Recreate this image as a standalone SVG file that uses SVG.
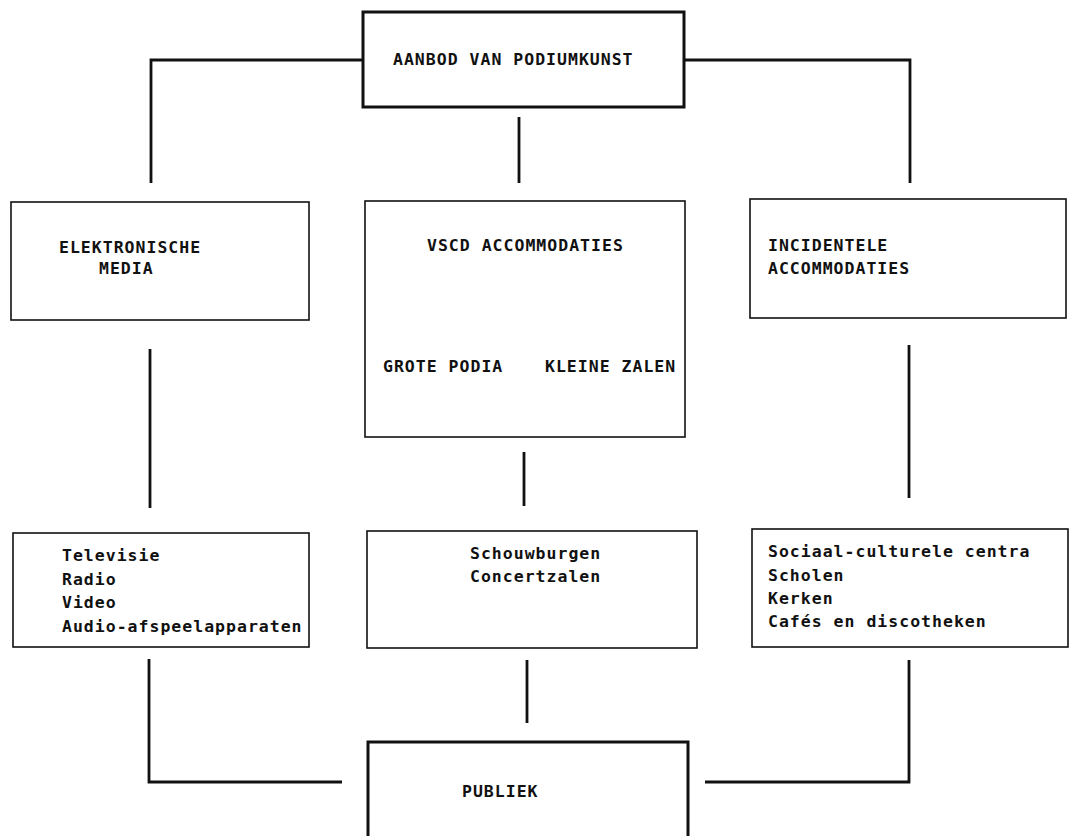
<svg xmlns="http://www.w3.org/2000/svg" width="1070" height="836" viewBox="0 0 1070 836">
<style>
.bg{fill:#ffffff}
.box{fill:none;stroke:#111;stroke-width:1.6}
.boxb{fill:none;stroke:#111;stroke-width:3}
.con{fill:none;stroke:#111;stroke-width:2.8;stroke-linecap:butt;stroke-linejoin:miter}
.t{font-family:"DejaVu Sans Mono","Liberation Mono",monospace;font-size:16.5px;font-weight:bold;letter-spacing:1px;fill:#111}
</style>
<rect class="bg" x="0" y="0" width="1070" height="836"/>
<g id="connectors">
<polyline class="con" points="151,183 151,60 363,60"/>
<polyline class="con" points="684,60 910,60 910,183"/>
<line class="con" x1="519" y1="117" x2="519" y2="183"/>
<line class="con" x1="150" y1="349" x2="150" y2="508"/>
<line class="con" x1="524" y1="452" x2="524" y2="506"/>
<line class="con" x1="909" y1="345" x2="909" y2="498"/>
<polyline class="con" points="149,659 149,782 342,782"/>
<line class="con" x1="527" y1="660" x2="527" y2="723"/>
<polyline class="con" points="909,660 909,782 705,782"/>
</g>
<g id="aanbod">
<rect class="boxb" x="363" y="12" width="321" height="95"/>
<text class="t" x="393" y="65">AANBOD VAN PODIUMKUNST</text>
</g>
<g id="elektronische-media">
<rect class="box" x="11" y="202" width="298" height="118"/>
<text class="t" x="59" y="253">ELEKTRONISCHE</text>
<text class="t" x="99" y="274">MEDIA</text>
</g>
<g id="vscd">
<rect class="box" x="365" y="201" width="320" height="236"/>
<text class="t" x="427" y="251">VSCD ACCOMMODATIES</text>
<text class="t" x="383" y="372">GROTE PODIA</text>
<text class="t" x="545" y="372">KLEINE ZALEN</text>
</g>
<g id="incidentele">
<rect class="box" x="750" y="199" width="316" height="119"/>
<text class="t" x="768" y="251">INCIDENTELE</text>
<text class="t" x="768" y="274">ACCOMMODATIES</text>
</g>
<g id="media-lijst">
<rect class="box" x="13" y="533" width="296" height="114"/>
<text class="t" x="62" y="561">Televisie</text>
<text class="t" x="62" y="585">Radio</text>
<text class="t" x="62" y="608">Video</text>
<text class="t" x="62" y="632">Audio-afspeelapparaten</text>
</g>
<g id="vscd-lijst">
<rect class="box" x="367" y="531" width="330" height="117"/>
<text class="t" x="470" y="559">Schouwburgen</text>
<text class="t" x="470" y="582">Concertzalen</text>
</g>
<g id="incidentele-lijst">
<rect class="box" x="752" y="529" width="316" height="118"/>
<text class="t" x="768" y="557">Sociaal-culturele centra</text>
<text class="t" x="768" y="581">Scholen</text>
<text class="t" x="768" y="604">Kerken</text>
<text class="t" x="768" y="627">Cafés en discotheken</text>
</g>
<g id="publiek">
<rect class="boxb" x="368" y="742" width="320" height="100"/>
<text class="t" x="462" y="797">PUBLIEK</text>
</g>
</svg>
